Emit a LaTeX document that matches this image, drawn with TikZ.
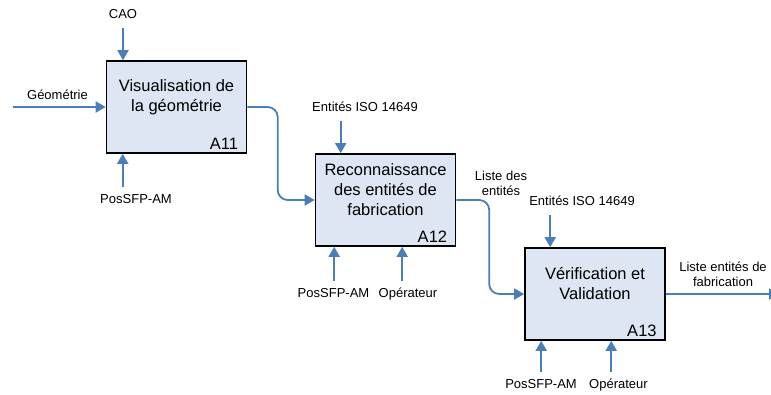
\documentclass[tikz,border=0pt]{standalone}
\usepackage{fontspec}
\setmainfont{Liberation Sans}
\usetikzlibrary{arrows.meta,positioning,calc}
\definecolor{boxfill}{RGB}{221,230,242}
\definecolor{flowblue}{RGB}{74,126,187}

\begin{document}
\begin{tikzpicture}[x=1pt,y=-1pt,>={Triangle[length=10pt,width=11pt]},
  act/.style={draw, line width=1.6pt, fill=boxfill, minimum width=140pt, minimum height=92pt, inner sep=0pt},
  acttext/.style={align=center, font=\fontsize{16.5}{20}\selectfont},
  actid/.style={anchor=base east, inner sep=0pt, font=\fontsize{16.5}{20}\selectfont},
  lbl/.style={font=\fontsize{13}{15}\selectfont, inner sep=0pt, outer sep=7pt, text height=9.5pt, text depth=2.5pt},
  lbl2/.style={font=\fontsize{13}{15}\selectfont, align=center, inner sep=0pt},
  flow/.style={->, draw=flowblue, line width=1.8pt, rounded corners=10pt}]

  \useasboundingbox (0,0) rectangle (771,394);
  \clip (0,0) rectangle (771,394);

  % activities
  \node[act] (a11) at (176.5,107) {};
  \node[acttext] (a11t) at ([yshift=10pt]a11.center) {Visualisation de\\la géométrie};
  \node[actid] (a11id) at ([xshift=-9pt,yshift=4.5pt]a11.south east) {A11};

  \node[act] (a12) at (385.5,200) {};
  \node[acttext] (a12t) at ([yshift=10pt]a12.center) {Reconnaissance\\des entités de\\fabrication};
  \node[actid] (a12id) at ([xshift=-9pt,yshift=4.5pt]a12.south east) {A12};

  \node[act] (a13) at (595,294) {};
  \node[acttext] (a13t) at ([yshift=10pt]a13.center) {Vérification et\\Validation};
  \node[actid] (a13id) at ([xshift=-9pt,yshift=4.5pt]a13.south east) {A13};

  % labels
  \node[lbl] (cao)  at (123,15)      {CAO};
  \node[lbl] (geo)  at (57.5,96)     {Géométrie};
  \node[lbl] (pos1) at (136,199.5)   {PosSFP-AM};
  \node[lbl] (iso1) at (365,107.5)   {Entités ISO 14649};
  \node[lbl] (pos2) at (333.5,293.5) {PosSFP-AM};
  \node[lbl] (op2)  at (408,293.5)   {Opérateur};
  \node[lbl2] (liste1) at (501,183.5) {Liste des\\entités};
  \node[lbl] (iso2) at (582,201.5)   {Entités ISO 14649};
  \node[lbl2] (liste2) at (723,274.5) {Liste entités de\\fabrication};
  \node[lbl] (pos3) at (541,384.5)   {PosSFP-AM};
  \node[lbl] (op3)  at (618.5,384.5) {Opérateur};

  % inputs and outputs
  \coordinate (geoin) at (12.5,107);
  \coordinate (out) at (779,294);
  \draw[flow] (geoin) -- (a11.west);
  \draw[flow] (a11.east) -| ([xshift=-37pt]a12.west) -- (a12.west);
  \draw[flow] (a12.east) -| ([xshift=-35pt]a13.west) -- (a13.west);
  \draw[flow] (a13.east) -- (out);

  % controls and mechanisms
  \coordinate (a11b) at ([xshift=17pt]a11.south west);
  \coordinate (a12a) at ([xshift=26pt]a12.north west);
  \coordinate (a12b) at ([xshift=19.5pt]a12.south west);
  \coordinate (a12c) at ([xshift=87.5pt]a12.south west);
  \coordinate (a13a) at ([xshift=26pt]a13.north west);
  \coordinate (a13b) at ([xshift=17pt]a13.south west);
  \coordinate (a13c) at ([xshift=87pt]a13.south west);
  \draw[flow] (cao) -- (cao |- a11.north);
  \draw[flow] (a11b |- pos1.north) -- (a11b);
  \draw[flow] (a12a |- iso1.south) -- (a12a);
  \draw[flow] (a12b |- pos2.north) -- (a12b);
  \draw[flow] (a12c |- op2.north) -- (a12c);
  \draw[flow] (a13a |- iso2.south) -- (a13a);
  \draw[flow] (a13b |- pos3.north) -- (a13b);
  \draw[flow] (a13c |- op3.north) -- (a13c);
\end{tikzpicture}
\end{document}
